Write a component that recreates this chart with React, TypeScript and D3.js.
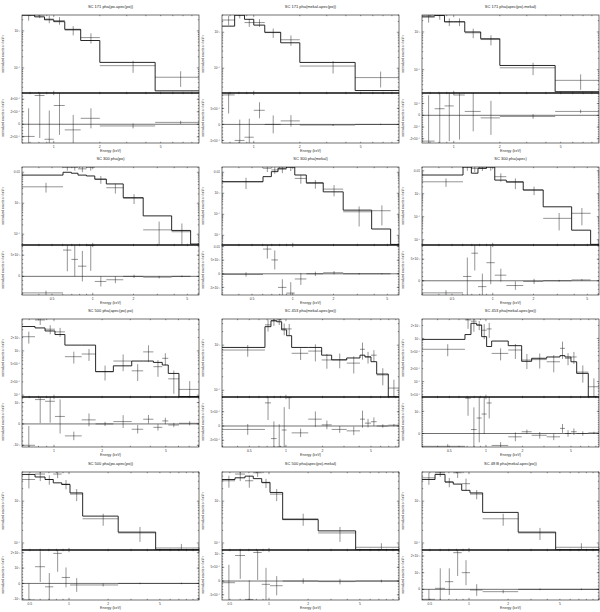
import React from "react";
import * as d3 from "d3";

// panel titles, row by row
const titles = [
  "SC 171 pha(po.apec(po))", "SC 171 pha(mekal.apec(po))", "SC 171 pha(apec(po).mekal)",
  "SC 300 pha(po)", "SC 300 pha(mekal)", "SC 300 pha(apec)",
  "SC 500 pha(apec(po).po)", "SC 453 pha(mekal.apec(po))", "SC 453 pha(mekal.apec(po))",
  "SC 500 pha(po.apec(po))", "SC 500 pha(apec(po).mekal)", "SC 48 B pha(mekal.apec(po))",
];

// energy bin edges (keV)
const edgesA = [0.62, 0.75, 0.87, 1.0, 1.18, 1.5, 2.0, 4.6, 8.9];
const edgesB = [0.3, 0.603, 0.695, 0.778, 0.898, 1.035, 1.26, 1.68, 2.36, 3.83, 5.29, 6.1];
const edgesC = [0.631, 0.761, 0.879, 1.014, 1.17, 1.49, 1.82, 2.35, 3.06, 3.61, 4.18, 4.75, 5.18, 6.04, 8.06];
const edgesD = [0.298, 0.672, 0.753, 0.839, 0.922, 1.013, 1.114, 1.525, 1.966, 2.375, 3.16, 4.06, 4.46, 5.0, 5.57, 6.94, 8.5];
const edgesE = [0.435, 0.548, 0.654, 0.757, 0.879, 1.018, 1.274, 2.39, 4.64, 10];
const binEdges = [edgesA, edgesA, edgesA, edgesB, edgesB, edgesB, edgesC, edgesD, edgesD, edgesE, edgesE, edgesE];

const xDomains = [
  [0.62, 8.9], [0.62, 8.9], [0.62, 8.9],
  [0.3, 6.1], [0.3, 6.1], [0.3, 6.1],
  [0.631, 8.06], [0.298, 8.5], [0.298, 8.5],
  [0.435, 10], [0.435, 10], [0.435, 10],
];
const xTickVals = [
  [1, 2, 5], [1, 2, 5], [1, 2, 5],
  [0.5, 1, 2, 5], [0.5, 1, 2, 5], [0.5, 1, 2, 5],
  [1, 2, 5], [0.5, 1, 2, 5], [0.5, 1, 2, 5],
  [0.5, 1, 2, 5], [0.5, 1, 2, 5], [0.5, 1, 2, 5],
];

// normalized counts s^-1 keV^-1 (upper panels)
const upperDomains = [
  [2.1e-5, 2.69e-3], [2.05e-5, 3.02e-3], [2.4e-5, 2.82e-3],
  [4.47e-5, 1.48e-2], [3.47e-6, 1.78e-2], [5.9e-6, 1.45e-2],
  [9.1e-5, 5.25e-3], [7.1e-5, 3.8e-3], [4.4e-5, 2.82e-3],
  [6.8e-5, 5.0e-3], [6.8e-5, 5.0e-3], [6.8e-5, 5.0e-3],
];
const upperTicks = [
  [1e-3, 1e-4], [1e-3, 1e-4], [1e-3, 1e-4],
  [0.01, 1e-3, 1e-4], [0.01, 1e-3, 1e-4, 1e-5], [0.01, 1e-3, 1e-4, 1e-5],
  [2e-3, 1e-3, 5e-4, 2e-4, 1e-4], [1e-3, 1e-4], [2e-3, 1e-3, 5e-4, 2e-4, 1e-4, 5e-5],
  [1e-3, 1e-4], [1e-3, 1e-4], [1e-3, 1e-4],
];

const modelVals = [
  [2.69e-3, 2.4e-3, 2.0e-3, 1.78e-3, 1.1e-3, 5.5e-4, 1.41e-4, 2.4e-5],
  [1.48e-3, 3.0e-3, 2.29e-3, 1.58e-3, 1.0e-3, 5.1e-4, 1.45e-4, 2.4e-5],
  [2.63e-3, 2.75e-3, 1.86e-3, 1.86e-3, 1.0e-3, 6.6e-4, 1.29e-4, 2.6e-5],
  [8.1e-3, 1.0e-2, 9.3e-3, 8.1e-3, 7.6e-3, 6.0e-3, 4.2e-3, 1.51e-3, 3.9e-4, 1.32e-4, 4.8e-5],
  [3.55e-3, 6.2e-3, 1.07e-2, 1.55e-2, 1.78e-2, 7.4e-3, 3.16e-3, 1.17e-3, 1.58e-4, 2.0e-5, 3.7e-6],
  [6.5e-3, 1.45e-2, 7.8e-3, 1.26e-2, 1.45e-2, 3.9e-3, 3.3e-3, 1.45e-3, 2.7e-4, 2.6e-5, 6.3e-6],
  [3.55e-3, 3.3e-3, 2.82e-3, 2.34e-3, 1.35e-3, 1.35e-3, 3.4e-4, 4.6e-4, 5.9e-4, 5.9e-4, 5.5e-4, 4.8e-4, 3.1e-4, 9.3e-5],
  [8.9e-4, 2.57e-3, 3.47e-3, 3.3e-3, 2.19e-3, 1.62e-3, 8.9e-4, 8.9e-4, 6.0e-4, 4.7e-4, 5.2e-4, 6.0e-4, 5.5e-4, 4.3e-4, 2.29e-4, 7.1e-5],
  [9.5e-4, 1.23e-3, 2.24e-3, 2.04e-3, 1.1e-3, 6.5e-4, 8.7e-4, 6.8e-4, 2.95e-4, 3.47e-4, 3.72e-4, 4.0e-4, 3.72e-4, 2.88e-4, 1.55e-4, 4.4e-5],
  [4.37e-3, 3.8e-3, 3.31e-3, 2.75e-3, 2.51e-3, 1.58e-3, 4.4e-4, 1.82e-4, 6.9e-5],
  [3.31e-3, 3.63e-3, 3.98e-3, 3.47e-3, 2.82e-3, 1.62e-3, 3.63e-4, 1.95e-4, 6.9e-5],
  [3.31e-3, 4.37e-3, 2.88e-3, 2.57e-3, 1.82e-3, 1.58e-3, 5.4e-4, 1.82e-4, 6.9e-5],
];

const dataVals = [
  [2.63e-3, 2.69e-3, 2.09e-3, 1.91e-3, 1.05e-3, 6.6e-4, 1.15e-4, 5.6e-5],
  [2.19e-3, 3.0e-3, 1.86e-3, 1.86e-3, 9.8e-4, 6.2e-4, 1.15e-4, 5.5e-5],
  [2.45e-3, 2.75e-3, 1.86e-3, 1.86e-3, 9.5e-4, 6.3e-4, 1.12e-4, 5.2e-5],
  [3.39e-3, 1.45e-2, 1.45e-2, 1.29e-2, 1.45e-2, 5.9e-3, 3.16e-3, 1.45e-3, 1.38e-4, 1.2e-4, null],
  [3.55e-3, 1.55e-2, 1.29e-2, 1.38e-2, 1.74e-2, 5.1e-3, 2.95e-3, 1.58e-3, 1.32e-4, 1.48e-4, null],
  [3.3e-3, 1.45e-2, 1.26e-2, 1.41e-2, 1.45e-2, 5.5e-3, 3.1e-3, 1.45e-3, 8.5e-5, 1.41e-4, null],
  [2.09e-3, 5.0e-3, 3.09e-3, 2.69e-3, 7.4e-4, 8.5e-4, 3.4e-4, 5.9e-4, 3.55e-4, 9.5e-4, 4.4e-4, 6.8e-4, 2.34e-4, 1.35e-4],
  [7.8e-4, 2.82e-3, 3.47e-3, 3.63e-3, 2.34e-3, 2.29e-3, 6.6e-4, 7.4e-4, 4.7e-4, 4.8e-4, 4.0e-4, 8.1e-4, 5.5e-4, 6.0e-4, 2.19e-4, 1.12e-4],
  [5.6e-4, 2.69e-3, 2.51e-3, 2.04e-3, 1.55e-3, 1.66e-3, 4.5e-4, 5.4e-4, 3.16e-4, 3.24e-4, 2.88e-4, 5.9e-4, 3.47e-4, 3.72e-4, 1.66e-4, 7.6e-5],
  [3.31e-3, 4.47e-3, 3.31e-3, 4.47e-3, 2.57e-3, 1.48e-3, 3.8e-4, 1.74e-4, 7.6e-5],
  [3.09e-3, 4.47e-3, 3.09e-3, 4.79e-3, 2.75e-3, 1.48e-3, 3.8e-4, 1.74e-4, 7.9e-5],
  [3.63e-3, 4.79e-3, 2.88e-3, 4.79e-3, 2.63e-3, 1.48e-3, 3.8e-4, 1.74e-4, 7.9e-5],
];

// relative 1-sigma errors of the data points
const dataRelErr = [
  [0.28, 0.18, 0.23, 0.23, 0.28, 0.31, 0.36, 0.45],
  [0.29, 0.19, 0.24, 0.24, 0.29, 0.32, 0.38, 0.47],
  [0.28, 0.23, 0.23, 0.23, 0.28, 0.3, 0.36, 0.44],
  [0.35, 0.22, 0.22, 0.22, 0.22, 0.28, 0.35, 0.35, 0.85, 0.85, null],
  [0.55, 0.34, 0.34, 0.34, 0.34, 0.44, 0.44, 0.55, 0.8, 0.8, null],
  [0.4, 0.31, 0.31, 0.31, 0.31, 0.4, 0.49, 0.4, 0.7, 0.7, null],
  [0.3, 0.23, 0.23, 0.23, 0.3, 0.3, 0.37, 0.41, 0.41, 0.41, 0.41, 0.3, 0.54, 0.54],
  [0.29, 0.29, 0.23, 0.23, 0.29, 0.29, 0.29, 0.41, 0.36, 0.36, 0.41, 0.41, 0.29, 0.29, 0.41, 0.53],
  [0.31, 0.38, 0.43, 0.24, 0.38, 0.38, 0.31, 0.38, 0.38, 0.38, 0.43, 0.43, 0.31, 0.31, 0.43, 0.56],
  [0.39, 0.32, 0.25, 0.2, 0.25, 0.32, 0.32, 0.39, 0.25],
  [0.32, 0.32, 0.32, 0.2, 0.25, 0.32, 0.32, 0.39, 0.25],
  [0.32, 0.2, 0.25, 0.25, 0.32, 0.25, 0.32, 0.32, 0.25],
];

// residuals (data - model) and their errors
const residVals = [
  [-1.95e-4, 4.6e-4, -2.4e-4, 3.0e-4, -0.9e-4, 0.95e-4, -0.27e-4, 0.3e-4],
  [9.2e-4, -5.0e-4, -4.0e-4, 4.4e-4, 0, 1.1e-4, -0.2e-4, 0],
  [-2.2e-4, 0.56e-4, 0.8e-4, 1.73e-4, 0.33e-4, -0.22e-4, -0.1e-4, 0.33e-4],
  [-3.9e-3, 6.2e-3, 4.0e-3, 2.4e-3, 7.3e-3, -1.2e-3, -0.8e-3, 0, -0.2e-3, 0, null],
  [-0.25e-3, 9.1e-3, 5.1e-3, -5e-3, -7.1e-3, -1.9e-3, 0, 0.4e-3, 0, 0, null],
  [-2.8e-3, 1.0e-3, 6.4e-3, -1.35e-3, 4.2e-3, 1.3e-3, -1.1e-3, -0.15e-3, 0, 0.2e-3, null],
  [-1.0e-3, 1.14e-3, 1.06e-3, 0.35e-3, -0.56e-3, 0.19e-3, 0, 0.11e-3, -0.25e-3, 0.22e-3, -0.16e-3, 0.14e-3, -0.05e-3, 0.03e-3],
  [-1.2e-4, 8.1e-4, -4.4e-4, -7.4e-4, -1.4e-4, 9.9e-4, -2.4e-4, 2.4e-4, 0.4e-4, -1.2e-4, -1.7e-4, 2.4e-4, 1e-4, 1.5e-4, 0, 0.3e-4],
  [-0.58e-3, 1.6e-3, 0.18e-3, 0.7e-3, 0.88e-3, 1.38e-3, -0.54e-3, -0.15e-3, 0.08e-3, -0.08e-3, -0.15e-3, 0.23e-3, 0, 0.08e-3, 0, 0.03e-3],
  [-1.09e-3, 1.09e-3, -0.22e-3, 1.96e-3, 0.39e-3, -0.1e-3, -0.1e-3, 0, 0],
  [-0.06e-3, 0.93e-3, -0.67e-3, 1.04e-3, -0.12e-3, -0.17e-3, 0, -0.02e-3, 0],
  [-0.6e-3, 0.06e-3, 0.46e-3, 2.2e-3, 1.0e-3, -0.04e-3, -0.14e-3, 0, 0],
];
const residErr = [
  [4.5e-4, 6.8e-4, 4.6e-4, 4.7e-4, 2.4e-4, 1.6e-4, 0.4e-4, 0.25e-4],
  [5.8e-4, 6.5e-4, 5.8e-4, 2.5e-4, 2.8e-4, 1.8e-4, 0.3e-4, 0.2e-4],
  [3.9e-4, 3.0e-4, 3.0e-4, 3.8e-4, 1.7e-4, 1.45e-4, 0.2e-4, 0.15e-4],
  [0.5e-3, 5e-3, 4e-3, 3.6e-3, 6e-3, 1.2e-3, 0.8e-3, 0.4e-3, 0.3e-3, 0.2e-3, null],
  [0.8e-3, 3.5e-3, 3.5e-3, 3e-3, 4e-3, 2.2e-3, 0.8e-3, 0.6e-3, 0.3e-3, 0.2e-3, null],
  [0.6e-3, 4.4e-3, 4e-3, 3e-3, 5e-3, 1.5e-3, 1e-3, 0.6e-3, 0.2e-3, 0.2e-3, null],
  [0.9e-3, 1.1e-3, 1.0e-3, 0.8e-3, 0.2e-3, 0.3e-3, 0.1e-3, 0.3e-3, 0.2e-3, 0.2e-3, 0.15e-3, 0.15e-3, 0.1e-3, 0.1e-3],
  [1.9e-4, 6e-4, 6e-4, 8e-4, 8e-4, 4e-4, 1.5e-4, 2.7e-4, 1.5e-4, 1.2e-4, 1.5e-4, 3e-4, 1.5e-4, 1.5e-4, 0.6e-4, 0.4e-4],
  [0.1e-3, 0.8e-3, 1.0e-3, 1.1e-3, 0.9e-3, 0.7e-3, 0.15e-3, 0.2e-3, 0.1e-3, 0.15e-3, 0.15e-3, 0.2e-3, 0.15e-3, 0.15e-3, 0.1e-3, 0.05e-3],
  [1.1e-3, 1.0e-3, 0.9e-3, 1.2e-3, 0.65e-3, 0.45e-3, 0.1e-3, 0.05e-3, 0.05e-3],
  [0.65e-3, 0.85e-3, 0.7e-3, 1.0e-3, 0.6e-3, 0.35e-3, 0.1e-3, 0.1e-3, 0.05e-3],
  [0.6e-3, 1.2e-3, 0.8e-3, 1.4e-3, 0.75e-3, 0.35e-3, 0.1e-3, 0.05e-3, 0.05e-3],
];
const residDomains = [
  [-3e-4, 5e-4], [-5.8e-4, 9.8e-4], [-2.36e-4, 1.9e-4],
  [-4.4e-3, 7.4e-3], [-7.8e-3, 1.06e-2], [-3.3e-3, 8.3e-3],
  [-1.08e-3, 1.26e-3], [-7.35e-4, 1.015e-3], [-0.61e-3, 1.65e-3],
  [-1.08e-3, 2.18e-3], [-0.69e-3, 1.13e-3], [-0.64e-3, 2.36e-3],
];
const residTicks = [
  [4e-4, 2e-4, 0, -2e-4], [5e-4, 0, -5e-4], [1e-4, 0, -1e-4, -2e-4],
  [5e-3, 0], [0.01, 5e-3, 0, -5e-3], [5e-3, 0],
  [1e-3, 0, -1e-3], [5e-4, 0, -5e-4], [1e-3, 0],
  [2e-3, 1e-3, 0, -1e-3], [1e-3, 5e-4, 0, -5e-4], [2e-3, 1e-3, 0],
];

const colLeft = [22, 222, 422];
const plotW = 177;
const rowTop = [15, 167, 319, 472];
const upperH = 78;
const lowerH = 50;

const SUP = { "-": "\u207B", "0": "\u2070", "1": "\u00B9", "2": "\u00B2", "3": "\u00B3", "4": "\u2074", "5": "\u2075", "6": "\u2076", "7": "\u2077", "8": "\u2078", "9": "\u2079" };

function fmt(v: number) {
  if (v === 0) return "0";
  const a = Math.abs(v);
  const sign = v < 0 ? "-" : "";
  if (Math.abs(a - 0.01) < 1e-12) return sign + "0.01";
  if (a >= 0.1) return sign + d3.format("~g")(a);
  const e = Math.floor(Math.log10(a) + 1e-9);
  const m = Math.round(a / Math.pow(10, e));
  const ex = String(e).split("").map((ch) => SUP[ch]).join("");
  return sign + (m === 1 ? "" : m + "\u00D7") + "10" + ex;
}

function logTicks(dom: number[]) {
  const out: { v: number; major: boolean }[] = [];
  const lo = Math.floor(Math.log10(dom[0])) - 1;
  const hi = Math.ceil(Math.log10(dom[1]));
  for (let d = lo; d <= hi; d++) {
    for (let k = 1; k <= 9; k++) {
      const v = k * Math.pow(10, d);
      if (v >= dom[0] * 0.9999 && v <= dom[1] * 1.0001) out.push({ v, major: k === 1 });
    }
  }
  return out;
}

const ink = "#111";

function Panel({ idx }: { idx: number }) {
  const r = Math.floor(idx / 3);
  const c = idx % 3;
  const left = colLeft[c];
  const right = left + plotW;
  const top = rowTop[r];
  const mid = top + upperH;
  const bottom = mid + lowerH;

  const x = d3.scaleLog().domain(xDomains[idx]).range([left, right]);
  const y = d3.scaleLog().domain(upperDomains[idx]).range([mid, top]);
  const yr = d3.scaleLinear().domain(residDomains[idx]).range([bottom, mid]);

  const edges = binEdges[idx];
  const model = modelVals[idx];
  const pts = model.map((m, k) => [edges[k], m]).concat([[edges[model.length], model[model.length - 1]]]);
  const step = d3.line<number[]>().x((d) => x(d[0])).y((d) => y(d[1])).curve(d3.curveStepAfter);

  const yLo = upperDomains[idx][0];
  const xt = logTicks(xDomains[idx]);
  const yt = logTicks(upperDomains[idx]);
  const rMinor = d3.ticks(residDomains[idx][0], residDomains[idx][1], 16);

  const ML = 2.2;
  const mn = 1.2;
  const tickStyle = { stroke: ink, strokeWidth: 0.45 };

  return (
    <g>
      <defs>
        <clipPath id={`cu${idx}`}>
          <rect x={left} y={top} width={plotW} height={upperH} />
        </clipPath>
        <clipPath id={`cl${idx}`}>
          <rect x={left} y={mid} width={plotW} height={lowerH} />
        </clipPath>
      </defs>

      <text x={(left + right) / 2} y={top - 7.5} fontSize={4} textAnchor="middle" fill="#222">
        {titles[idx]}
      </text>

      {/* upper panel */}
      <g clipPath={`url(#cu${idx})`}>
        <path d={step(pts) || ""} fill="none" stroke={ink} strokeWidth={0.9} />
        {dataVals[idx].map((v, k) => {
          if (v == null) return null;
          const e = v * (dataRelErr[idx][k] as number);
          const cx = x((edges[k] + edges[k + 1]) / 2);
          const lo = v - e > yLo ? y(v - e) : mid + 2;
          return (
            <g key={k} stroke={ink} strokeWidth={0.45}>
              <line x1={x(edges[k])} x2={x(edges[k + 1])} y1={y(v)} y2={y(v)} />
              <line x1={cx} x2={cx} y1={y(v + e)} y2={lo} />
            </g>
          );
        })}
      </g>

      {/* residual panel */}
      <g clipPath={`url(#cl${idx})`}>
        <line x1={left} x2={right} y1={yr(0)} y2={yr(0)} stroke={ink} strokeWidth={0.6} />
        {residVals[idx].map((v, k) => {
          if (v == null) return null;
          const e = residErr[idx][k] as number;
          const cx = x((edges[k] + edges[k + 1]) / 2);
          return (
            <g key={k} stroke={ink} strokeWidth={0.45}>
              <line x1={x(edges[k])} x2={x(edges[k + 1])} y1={yr(v)} y2={yr(v)} />
              <line x1={cx} x2={cx} y1={yr(v + e)} y2={yr(v - e)} />
            </g>
          );
        })}
      </g>

      {/* x ticks on all horizontal frame lines */}
      {xt.map((t, k) => {
        const px = x(t.v);
        const L = t.major ? ML : mn;
        return (
          <g key={`xt${k}`} {...tickStyle}>
            <line x1={px} x2={px} y1={top} y2={top + L} />
            <line x1={px} x2={px} y1={mid} y2={mid - L} />
            <line x1={px} x2={px} y1={mid} y2={mid + L} />
            <line x1={px} x2={px} y1={bottom} y2={bottom - L} />
          </g>
        );
      })}
      {/* y ticks upper */}
      {yt.map((t, k) => {
        const py = y(t.v);
        const L = t.major ? ML : mn;
        return (
          <g key={`yt${k}`} {...tickStyle}>
            <line x1={left} x2={left + L} y1={py} y2={py} />
            <line x1={right} x2={right - L} y1={py} y2={py} />
          </g>
        );
      })}
      {/* y ticks residual */}
      {rMinor.map((v, k) => (
        <g key={`rm${k}`} {...tickStyle}>
          <line x1={left} x2={left + mn} y1={yr(v)} y2={yr(v)} />
          <line x1={right} x2={right - mn} y1={yr(v)} y2={yr(v)} />
        </g>
      ))}
      {residTicks[idx].map((v, k) => (
        <g key={`rt${k}`} {...tickStyle}>
          <line x1={left} x2={left + ML} y1={yr(v)} y2={yr(v)} />
          <line x1={right} x2={right - ML} y1={yr(v)} y2={yr(v)} />
        </g>
      ))}

      {/* frames */}
      <rect x={left} y={top} width={plotW} height={upperH} fill="none" stroke={ink} strokeWidth={0.6} />
      <rect x={left} y={mid} width={plotW} height={lowerH} fill="none" stroke={ink} strokeWidth={0.6} />
      <line x1={left} x2={right} y1={mid} y2={mid} stroke={ink} strokeWidth={1.1} />

      {/* tick labels */}
      {upperTicks[idx].map((v, k) => (
        <text key={`ul${k}`} x={left - 2} y={y(v)} dy="0.35em" fontSize={3.2} textAnchor="end" fill="#333">
          {fmt(v)}
        </text>
      ))}
      {residTicks[idx].map((v, k) => (
        <text key={`rl${k}`} x={left - 2} y={yr(v)} dy="0.35em" fontSize={3.2} textAnchor="end" fill="#333">
          {fmt(v)}
        </text>
      ))}
      {xTickVals[idx].map((v, k) => (
        <text key={`xl${k}`} x={x(v)} y={bottom + 4.6} fontSize={3.4} textAnchor="middle" fill="#333">
          {String(v)}
        </text>
      ))}

      {/* axis titles */}
      <text x={(left + right) / 2} y={bottom + 8.8} fontSize={3.6} textAnchor="middle" fill="#333">
        Energy (keV)
      </text>
      <text transform={`translate(${left - 18},${(top + mid) / 2}) rotate(-90)`} fontSize={3.1} textAnchor="middle" fill="#333">
        normalized counts s{"\u207B\u00B9"} keV{"\u207B\u00B9"}
      </text>
      <text transform={`translate(${left - 18},${(mid + bottom) / 2}) rotate(-90)`} fontSize={3.1} textAnchor="middle" fill="#333">
        normalized counts s{"\u207B\u00B9"} keV{"\u207B\u00B9"}
      </text>
    </g>
  );
}

export default function App() {
  const W = 600;
  const H = 612;
  return (
    <svg
      width={W}
      height={H}
      style={{ position: "absolute", left: 0, top: 0, display: "block" }}
      fontFamily="'Liberation Sans', Arial, sans-serif"
    >
      <rect width={W} height={H} fill="#fff" />
      {titles.map((t, i) => (
        <Panel key={i} idx={i} />
      ))}
    </svg>
  );
}
